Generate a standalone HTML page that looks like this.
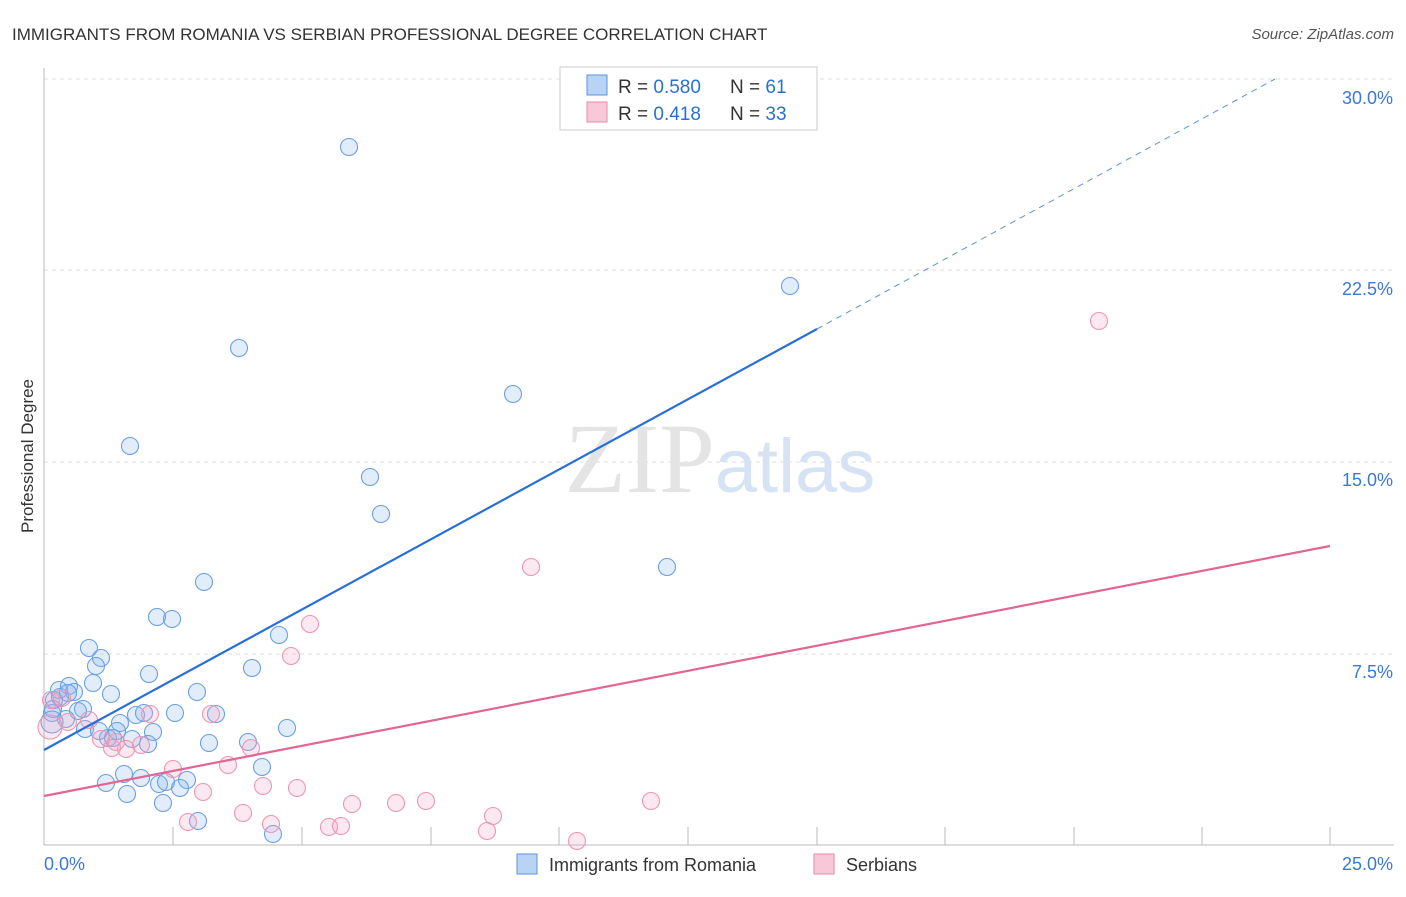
<!DOCTYPE html><html><head><style>body{margin:0;background:#fff;font-family:"Liberation Sans",sans-serif}</style></head><body>
<svg width="1406" height="892" xmlns="http://www.w3.org/2000/svg" font-family="Liberation Sans, sans-serif">
<text x="12" y="40" font-size="17" fill="#333">IMMIGRANTS FROM ROMANIA VS SERBIAN PROFESSIONAL DEGREE CORRELATION CHART</text>
<text x="1394" y="39" font-size="15" fill="#555" text-anchor="end" font-style="italic">Source: ZipAtlas.com</text>
<g stroke="#ddd" stroke-dasharray="4,4"><line x1="44" x2="1394" y1="79" y2="79"/><line x1="44" x2="1394" y1="270" y2="270"/><line x1="44" x2="1394" y1="462" y2="462"/><line x1="44" x2="1394" y1="654" y2="654"/></g>
<g stroke="#bbb"><line x1="44" y1="68" x2="44" y2="845"/><line x1="44" y1="845" x2="1394" y2="845"/>
<line x1="173" y1="827" x2="173" y2="845"/><line x1="302" y1="827" x2="302" y2="845"/><line x1="431" y1="827" x2="431" y2="845"/><line x1="559" y1="827" x2="559" y2="845"/><line x1="688" y1="827" x2="688" y2="845"/><line x1="817" y1="827" x2="817" y2="845"/><line x1="945" y1="827" x2="945" y2="845"/><line x1="1074" y1="827" x2="1074" y2="845"/><line x1="1202" y1="827" x2="1202" y2="845"/><line x1="1330" y1="827" x2="1330" y2="845"/></g>
<g font-size="18" fill="#3b78d8" text-anchor="end"><text x="1393" y="104">30.0%</text><text x="1393" y="295">22.5%</text><text x="1393" y="486">15.0%</text><text x="1393" y="678">7.5%</text></g>
<text x="44" y="870" font-size="18" fill="#3b78d8">0.0%</text><text x="1393" y="870" font-size="18" fill="#3b78d8" text-anchor="end">25.0%</text>
<text x="33" y="456" font-size="17" fill="#333" transform="rotate(-90 33 456)" text-anchor="middle">Professional Degree</text>
<text x="720" y="492" font-size="100" fill="#e4e4e4" text-anchor="middle" font-family="Liberation Serif, serif">ZIP<tspan fill="#d6e3f5" font-family="Liberation Sans, sans-serif" font-size="76">atlas</tspan></text>
<g fill="rgba(140,185,240,0.25)" stroke="#6a9fe4" stroke-width="1.1">
<circle cx="349" cy="147" r="8.5"/><circle cx="239" cy="348" r="8.5"/><circle cx="790" cy="286" r="8.5"/><circle cx="130" cy="446" r="8.5"/><circle cx="513" cy="394" r="8.5"/><circle cx="370" cy="477" r="8.5"/><circle cx="381" cy="514" r="8.5"/><circle cx="204" cy="582" r="8.5"/><circle cx="667" cy="567" r="8.5"/><circle cx="157" cy="617" r="8.5"/><circle cx="172" cy="619" r="8.5"/><circle cx="279" cy="635" r="8.5"/><circle cx="89" cy="648" r="8.5"/><circle cx="101" cy="658" r="8.5"/><circle cx="96" cy="666" r="8.5"/><circle cx="252" cy="668" r="8.5"/><circle cx="149" cy="674" r="8.5"/><circle cx="93" cy="683" r="8.5"/><circle cx="59" cy="690" r="8.5"/><circle cx="69" cy="686" r="8.5"/><circle cx="74" cy="692" r="8.5"/><circle cx="111" cy="694" r="8.5"/><circle cx="197" cy="692" r="8.5"/><circle cx="54" cy="700" r="8.5"/><circle cx="83" cy="709" r="8.5"/><circle cx="78" cy="711" r="8.5"/><circle cx="52" cy="713" r="8.5"/><circle cx="136" cy="715" r="8.5"/><circle cx="144" cy="713" r="8.5"/><circle cx="175" cy="713" r="8.5"/><circle cx="216" cy="714" r="8.5"/><circle cx="120" cy="723" r="8.5"/><circle cx="66" cy="719" r="8.5"/><circle cx="85" cy="729" r="8.5"/><circle cx="99" cy="731" r="8.5"/><circle cx="117" cy="731" r="8.5"/><circle cx="153" cy="732" r="8.5"/><circle cx="287" cy="728" r="8.5"/><circle cx="108" cy="738" r="8.5"/><circle cx="132" cy="739" r="8.5"/><circle cx="148" cy="744" r="8.5"/><circle cx="209" cy="743" r="8.5"/><circle cx="248" cy="742" r="8.5"/><circle cx="262" cy="767" r="8.5"/><circle cx="124" cy="774" r="8.5"/><circle cx="141" cy="778" r="8.5"/><circle cx="106" cy="783" r="8.5"/><circle cx="159" cy="784" r="8.5"/><circle cx="166" cy="782" r="8.5"/><circle cx="187" cy="780" r="8.5"/><circle cx="180" cy="788" r="8.5"/><circle cx="127" cy="794" r="8.5"/><circle cx="163" cy="803" r="8.5"/><circle cx="198" cy="821" r="8.5"/><circle cx="273" cy="834" r="8.5"/><circle cx="53" cy="709" r="8.5"/><circle cx="60" cy="697" r="8.5"/><circle cx="113" cy="738" r="8.5"/><circle cx="68" cy="693" r="8.5"/><circle cx="52" cy="722" r="11"/>
</g>
<g fill="rgba(245,165,195,0.25)" stroke="#ec96b2" stroke-width="1.1">
<circle cx="1099" cy="321" r="8.5"/><circle cx="531" cy="567" r="8.5"/><circle cx="310" cy="624" r="8.5"/><circle cx="291" cy="656" r="8.5"/><circle cx="51" cy="700" r="8.5"/><circle cx="62" cy="698" r="8.5"/><circle cx="89" cy="720" r="8.5"/><circle cx="150" cy="714" r="8.5"/><circle cx="211" cy="714" r="8.5"/><circle cx="68" cy="722" r="8.5"/><circle cx="101" cy="739" r="8.5"/><circle cx="116" cy="742" r="8.5"/><circle cx="126" cy="749" r="8.5"/><circle cx="112" cy="748" r="8.5"/><circle cx="141" cy="745" r="8.5"/><circle cx="251" cy="748" r="8.5"/><circle cx="228" cy="765" r="8.5"/><circle cx="173" cy="769" r="8.5"/><circle cx="203" cy="792" r="8.5"/><circle cx="263" cy="786" r="8.5"/><circle cx="297" cy="788" r="8.5"/><circle cx="352" cy="804" r="8.5"/><circle cx="396" cy="803" r="8.5"/><circle cx="426" cy="801" r="8.5"/><circle cx="651" cy="801" r="8.5"/><circle cx="493" cy="816" r="8.5"/><circle cx="243" cy="813" r="8.5"/><circle cx="188" cy="822" r="8.5"/><circle cx="271" cy="824" r="8.5"/><circle cx="329" cy="827" r="8.5"/><circle cx="341" cy="826" r="8.5"/><circle cx="487" cy="831" r="8.5"/><circle cx="577" cy="841" r="8.5"/><circle cx="50" cy="727" r="12"/>
</g>
<line x1="44" y1="750" x2="817" y2="329" stroke="#2a6fd6" stroke-width="2.2"/>
<line x1="817" y1="329" x2="1275" y2="79" stroke="#5a93e0" stroke-width="1" stroke-dasharray="6,5"/>
<line x1="44" y1="796" x2="1330" y2="546" stroke="#e36592" stroke-width="2.2"/>
<rect x="560" y="67" width="257" height="63" fill="#fff" stroke="#ccc"/>
<rect x="587" y="75" width="20" height="20" fill="#b9d3f5" stroke="#5a93e0"/>
<rect x="587" y="102" width="20" height="20" fill="#f9c8d8" stroke="#e88aa8"/>
<g font-size="19" fill="#333"><text x="618" y="93">R = <tspan fill="#2a6fd6">0.580</tspan></text><text x="730" y="93">N = <tspan fill="#2a6fd6">61</tspan></text>
<text x="618" y="120">R = <tspan fill="#2a6fd6"> 0.418</tspan></text><text x="730" y="120">N = <tspan fill="#2a6fd6">33</tspan></text></g>
<rect x="517" y="854" width="20" height="20" fill="#b9d3f5" stroke="#5a93e0"/>
<text x="549" y="871" font-size="18" fill="#333">Immigrants from Romania</text>
<rect x="814" y="854" width="20" height="20" fill="#f9c8d8" stroke="#e88aa8"/>
<text x="846" y="871" font-size="18" fill="#333">Serbians</text>
</svg></body></html>
